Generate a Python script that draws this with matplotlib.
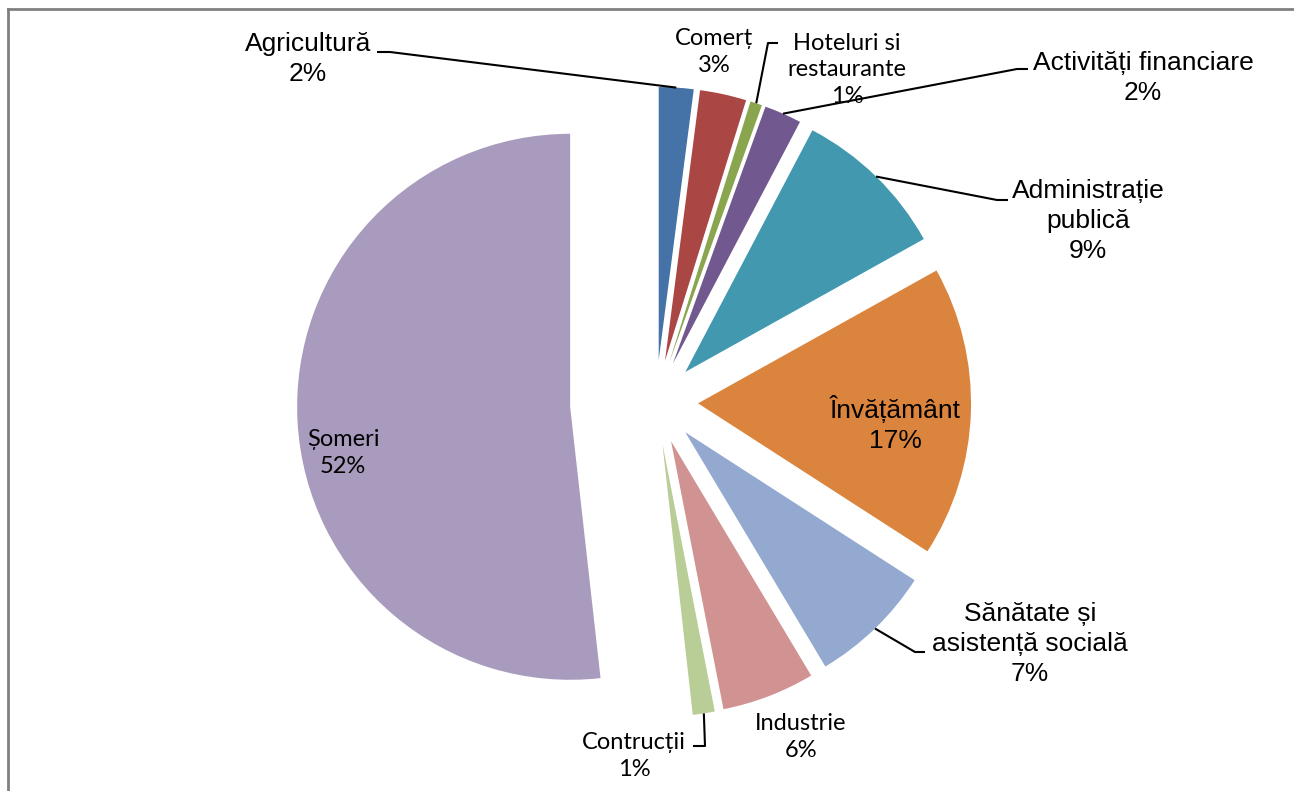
import math
import matplotlib.pyplot as plt
from matplotlib.lines import Line2D

# data (share of employment, %)
sectors = ['Agricultură', 'Comerț', 'Hoteluri si\nrestaurante', 'Activități financiare',
           'Administrație\npublică', 'Învățământ', 'Sănătate și\nasistență socială',
           'Industrie', 'Contrucții', 'Șomeri']
shares = [2.05, 2.75, 0.7, 2.2, 9.2, 17.2, 7.3, 5.5, 1.3, 51.75]
colors = ['#4572A7', '#AA4643', '#89A54E', '#71588F', '#4198AF',
          '#DB843D', '#93A9CF', '#D19392', '#B9CD96', '#A99BBD']

W, H = 1294, 791
fig = plt.figure(figsize=(W / 100, H / 100), dpi=100)
ax = fig.add_axes([0, 0, 1, 1])

cx, cy, r = 656, 402, 273
expl = [0.154 * r] * 9 + [0.315 * r]

wedges, _ = ax.pie(shares, colors=colors, startangle=90, counterclock=False,
                   center=(cx, H - cy), radius=r, explode=expl,
                   wedgeprops=dict(edgecolor='none'))
ax.set_xlim(0, W)
ax.set_ylim(0, H)
ax.set_aspect('equal')
ax.axis('off')

total = sum(shares)
pct = ['{:.0f}%'.format(v / total * 100) for v in shares]

arial = 'Liberation Sans'
calibri = 'Lato'
# (text x, text y, font, size)  -- y in pixels from top
lab = {
    0: (308, 59, arial, 19),
    1: (714, 52, calibri, 17),
    2: (847, 70, calibri, 17),
    3: (1143, 78, arial, 19),
    4: (1088, 221, arial, 19),
    5: (895, 424, arial, 19),
    6: (1030, 644, arial, 19),
    7: (801, 737, calibri, 17),
    8: (634, 756, calibri, 17),
    9: (343, 453, calibri, 17),
}
for i, (tx, ty, fam, fs) in lab.items():
    ax.text(tx, H - ty, sectors[i] + '\n' + pct[i], ha='center', va='center',
            fontsize=fs, family=fam, linespacing=1.3, color='black')

# leader lines: start near label, elbow, then to middle of the wedge arc
leaders = {
    0: [(377, 52), (390, 52)],
    2: [(778, 43), (768, 43)],
    3: [(1028, 69), (1017, 69)],
    4: [(1008, 200), (997, 200)],
    6: [(925, 652), (915, 652)],
    8: [(693, 746), (705, 746)],
}
for i, pts in leaders.items():
    w = wedges[i]
    tm = math.radians((w.theta1 + w.theta2) / 2)
    ex = w.center[0] + w.r * math.cos(tm)
    ey = w.center[1] + w.r * math.sin(tm)
    xs = [p[0] for p in pts] + [ex]
    ys = [H - p[1] for p in pts] + [ey]
    ax.plot(xs, ys, color='black', lw=1.5, solid_capstyle='butt')

# chart frame
fig.add_artist(Line2D([8 / W, 8 / W], [1 - 9 / H, 0], color='#808080', lw=2))
fig.add_artist(Line2D([8 / W, 1], [1 - 9 / H, 1 - 9 / H], color='#808080', lw=2))

fig.savefig('out.png', dpi=100)
